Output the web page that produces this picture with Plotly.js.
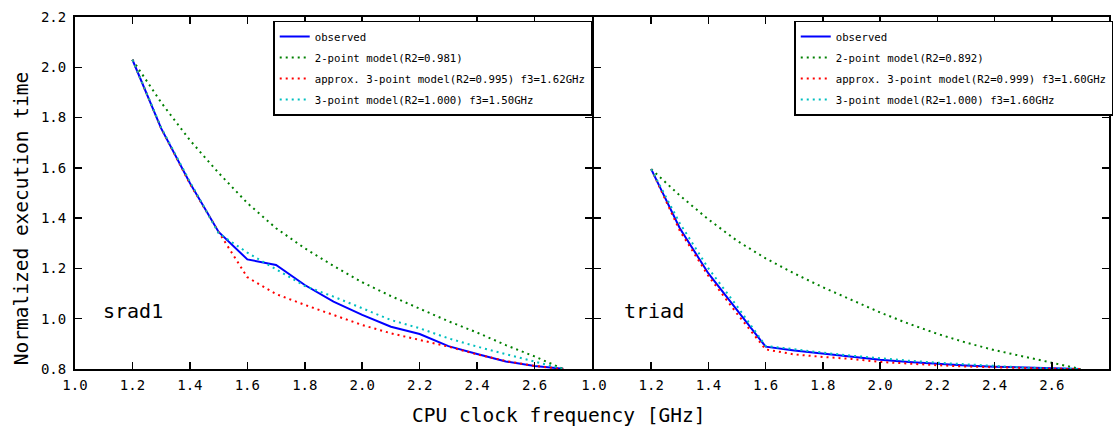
<!DOCTYPE html>
<html>
<head>
<meta charset="utf-8">
<script src="https://cdn.plot.ly/plotly-3.0.1.min.js"></script>
<style>html,body{margin:0;padding:0;background:#fff;}#chart{width:1116px;height:432px;}</style>
</head>
<body>
<div id="chart"></div>
<script>
// ---- data ----
const freqs = [1.2,1.3,1.4,1.5,1.6,1.7,1.8,1.9,2.0,2.1,2.2,2.3,2.4,2.5,2.6,2.7];

const srad1Observed   = [2.03,1.757,1.54,1.345,1.236,1.214,1.134,1.068,1.015,0.968,0.939,0.891,0.86,0.83,0.812,0.801];
const srad1TwoPoint   = [2.03,1.86,1.71,1.58,1.46,1.36,1.28,1.21,1.145,1.09,1.04,0.99,0.945,0.895,0.85,0.80];
const srad1Approx3    = [2.03,1.757,1.537,1.345,1.165,1.098,1.055,1.015,0.975,0.942,0.915,0.889,0.858,0.832,0.812,0.80];
const srad1ThreePoint = [2.03,1.76,1.545,1.34,1.263,1.198,1.13,1.088,1.041,0.995,0.962,0.922,0.889,0.86,0.828,0.80];

const triadObserved   = [1.595,1.36,1.18,1.035,0.889,0.874,0.861,0.848,0.837,0.828,0.82,0.814,0.809,0.805,0.802,0.80];
const triadTwoPoint   = [1.595,1.49,1.395,1.31,1.24,1.18,1.125,1.075,1.025,0.98,0.94,0.905,0.875,0.85,0.825,0.80];
const triadApprox3    = [1.595,1.35,1.17,1.02,0.878,0.858,0.848,0.84,0.828,0.82,0.815,0.81,0.806,0.803,0.801,0.80];
const triadThreePoint = [1.595,1.38,1.20,1.05,0.892,0.878,0.865,0.853,0.842,0.833,0.825,0.818,0.811,0.806,0.802,0.80];

const srad1Labels = ["observed","2-point model(R2=0.981)","approx. 3-point model(R2=0.995) f3=1.62GHz","3-point model(R2=1.000) f3=1.50GHz"];
const triadLabels = ["observed","2-point model(R2=0.892)","approx. 3-point model(R2=0.999) f3=1.60GHz","3-point model(R2=1.000) f3=1.60GHz"];

const xTicks = [1.0,1.2,1.4,1.6,1.8,2.0,2.2,2.4,2.6];
const xTickText = ["1.0","1.2","1.4","1.6","1.8","2.0","2.2","2.4","2.6"];
const yTicks = [0.8,1.0,1.2,1.4,1.6,1.8,2.0,2.2];
const yTickText = ["0.8","1.0","1.2","1.4","1.6","1.8","2.0","2.2"];

// ---- styles ----
const FONT = "DejaVu Sans Mono";
const styles = [
  {color:"#0000ff", dash:"solid", width:2},
  {color:"#008000", dash:"2px,4px", width:2},
  {color:"#ff0000", dash:"2px,4px", width:2},
  {color:"#00bfbf", dash:"2px,4px", width:2}
];

function mk(ys, i, label, xa, ya, leg, grp){
  return {x:freqs, y:ys, type:"scatter", mode:"lines", name:label,
    line:{color:styles[i].color, dash:styles[i].dash, width:styles[i].width},
    xaxis:xa, yaxis:ya, legend:leg, legendgroup:grp+i, showlegend:true, hoverinfo:"skip"};
}

const data = [
  mk(srad1Observed,0,srad1Labels[0],"x","y","legend","a"),
  mk(srad1TwoPoint,1,srad1Labels[1],"x","y","legend","a"),
  mk(srad1Approx3,2,srad1Labels[2],"x","y","legend","a"),
  mk(srad1ThreePoint,3,srad1Labels[3],"x","y","legend","a"),
  mk(triadObserved,0,triadLabels[0],"x2","y2","legend2","b"),
  mk(triadTwoPoint,1,triadLabels[1],"x2","y2","legend2","b"),
  mk(triadApprox3,2,triadLabels[2],"x2","y2","legend2","b"),
  mk(triadThreePoint,3,triadLabels[3],"x2","y2","legend2","b")
];

const axBase = {showline:true, linecolor:"black", linewidth:2, mirror:"ticks",
  ticks:"inside", ticklen:7, tickwidth:1.5, tickcolor:"black",
  showgrid:false, zeroline:false, tickfont:{family:FONT, size:14, color:"black"}};

const legBase = {xanchor:"left", yanchor:"top", bordercolor:"black", borderwidth:1.5,
  bgcolor:"white", font:{family:FONT, size:10.7, color:"black"}, tracegroupgap:2,
  itemwidth:30};

const layout = {
  width:1116, height:432,
  margin:{l:75, r:3, t:17, b:63},
  paper_bgcolor:"white", plot_bgcolor:"white",
  font:{family:FONT, color:"black"},
  xaxis:Object.assign({}, axBase, {domain:[0,0.5], range:[1.0,2.8], tickvals:xTicks, ticktext:xTickText, anchor:"y", ticklabelstandoff:2}),
  xaxis2:Object.assign({}, axBase, {domain:[0.5019,1], range:[1.0,2.8], tickvals:xTicks, ticktext:xTickText, anchor:"y2", ticklabelstandoff:2}),
  yaxis:Object.assign({}, axBase, {range:[0.8,2.2], tickvals:yTicks, ticktext:yTickText, anchor:"x", ticklabelstandoff:4}),
  yaxis2:Object.assign({}, axBase, {range:[0.8,2.2], tickvals:yTicks, showticklabels:false, anchor:"x2", matches:"y"}),
  legend:Object.assign({}, legBase, {x:0.1917, y:0.99}),
  legend2:Object.assign({}, legBase, {x:0.6956, y:0.99}),
  annotations:[
    {text:"srad1", xref:"x", yref:"y", x:1.202, y:1.03, showarrow:false, xanchor:"center", yanchor:"middle", font:{family:FONT, size:20, color:"black"}},
    {text:"triad", xref:"x2", yref:"y2", x:1.209, y:1.03, showarrow:false, xanchor:"center", yanchor:"middle", font:{family:FONT, size:20, color:"black"}},
    {text:"CPU clock frequency [GHz]", xref:"paper", yref:"paper", x:0.468, y:-0.1335, showarrow:false, xanchor:"center", yanchor:"middle", font:{family:FONT, size:19.5, color:"black"}},
    {text:"Normalized execution time", xref:"paper", yref:"paper", x:-0.051, y:0.429, textangle:-90, showarrow:false, xanchor:"center", yanchor:"middle", font:{family:FONT, size:19.5, color:"black"}}
  ]
};

Plotly.newPlot("chart", data, layout, {staticPlot:true, displayModeBar:false});
</script>
</body>
</html>
